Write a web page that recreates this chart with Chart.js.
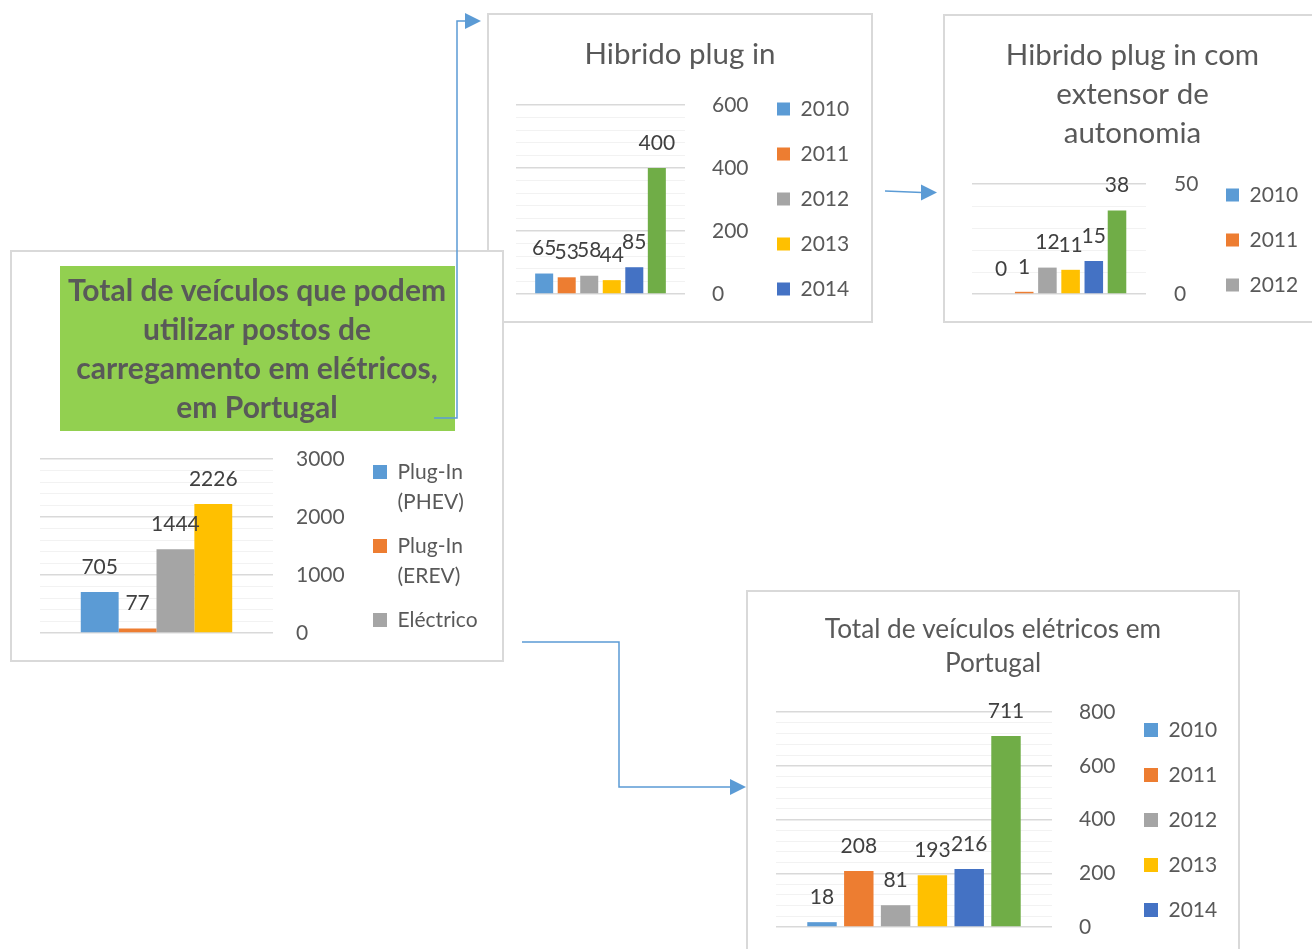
<!DOCTYPE html>
<html>
<head>
<meta charset="utf-8">
<script src="https://cdn.jsdelivr.net/npm/chart.js@4.4.1/dist/chart.umd.min.js"></script>
<style>
html,body{margin:0;padding:0;background:#fff;}
body{width:1312px;height:949px;overflow:hidden;position:relative;font-family:Lato,sans-serif;}
.box{position:absolute;background:#fff;}
.box canvas{position:absolute;left:0;top:0;}
.box .frame{position:absolute;left:0;top:0;right:0;bottom:0;border:2px solid #d9d9d9;box-sizing:border-box;pointer-events:none;}
svg.arrows{position:absolute;left:0;top:0;pointer-events:none;}
</style>
</head>
<body>
<div class="box" style="left:487px;top:13px;width:386px;height:310px"><canvas id="cPhev" width="386" height="310"></canvas><div class="frame"></div></div>
<div class="box" style="left:943px;top:14px;width:386px;height:309px"><canvas id="cErev" width="386" height="309"></canvas><div class="frame"></div></div>
<div class="box" style="left:746px;top:590px;width:494px;height:412px"><canvas id="cBev" width="494" height="412"></canvas><div class="frame"></div></div>
<div class="box" style="left:10px;top:250px;width:494px;height:412px"><canvas id="cTotal" width="494" height="412"></canvas><div class="frame"></div></div>
<svg class="arrows" width="1312" height="949">
  <g stroke="#5b9bd5" stroke-width="1.5" fill="none">
    <polyline points="434,418 457,418 457,21 467,21"/>
    <line x1="885" y1="191" x2="922" y2="192.5"/>
    <polyline points="522,642 619,642 619,787 731,787"/>
  </g>
  <g fill="#5b9bd5">
    <polygon points="465,13 481,21 465,29"/>
    <polygon points="921,184.5 937,192.5 921,200.5"/>
    <polygon points="730,779 746,787 730,795"/>
  </g>
</svg>
<script>
// ---- data ----
const yearLabels = ['2010', '2011', '2012', '2013', '2014', '2015'];
const phevValues = [65, 53, 58, 44, 85, 400];
const erevValues = [0, 1, 12, 11, 15, 38];
const bevValues = [18, 208, 81, 193, 216, 711];
const totalSeries = ['Plug-In (PHEV)', 'Plug-In (EREV)', 'Eléctrico', 'Total'];
const totalValues = [705, 77, 1444, 2226];
const totalTicks = [0, 1000, 2000, 3000];
const phevTicks = [0, 200, 400, 600];
const erevTicks = [0, 50];
const bevTicks = [0, 200, 400, 600, 800];
const titleTotal = ['Total de veículos que podem', 'utilizar postos de', 'carregamento em elétricos,', 'em Portugal'];
const titlePhev = ['Hibrido plug in'];
const titleErev = ['Hibrido plug in com', 'extensor de', 'autonomia'];
const titleBev = ['Total de veículos elétricos em', 'Portugal'];

// ---- styles ----
const yearColors = ['#5b9bd5', '#ed7d31', '#a5a5a5', '#ffc000', '#4472c4', '#70ad47'];
const totalColors = ['#5b9bd5', '#ed7d31', '#a5a5a5', '#ffc000'];

function build(canvasId, o) {
  const majors = o.ticks;
  const major = majors[1] - majors[0];
  const datasets = o.series.map((name, i) => ({
    label: name,
    data: [o.values[i]],
    backgroundColor: o.colors[i],
    borderWidth: 0,
    barPercentage: o.barPct,
    categoryPercentage: o.catPct
  }));
  const labelOpts = {
    color: '#595959',
    font: { size: 21, lineHeight: o.legLH },
    boxWidth: o.box,
    boxHeight: o.box,
    padding: o.legPad,
    filter: (item) => item.datasetIndex < o.legendCount
  };
  if (o.multiLine) {
    labelOpts.generateLabels = (chart) =>
      Chart.defaults.plugins.legend.labels.generateLabels(chart).map((it) => Object.assign(it, { text: it.text.split(' ') }));
  }
  const plugins = [
    {
      id: 'legendPlace',
      afterLayout(chart) {
        const lg = chart.legend;
        if (!lg) return;
        lg.left = o.legL; lg.top = o.legT;
        lg.right = chart.width; lg.bottom = chart.height + 200;
        lg.width = lg.right - lg.left; lg.height = lg.bottom - lg.top;
      }
    },
    {
      id: 'valueLabels',
      afterDatasetsDraw(chart) {
        const ctx = chart.ctx;
        ctx.save();
        ctx.font = '21px Lato, sans-serif';
        ctx.fillStyle = '#404040';
        ctx.textAlign = 'center';
        ctx.textBaseline = 'middle';
        chart.data.datasets.forEach((ds, i) => {
          const meta = chart.getDatasetMeta(i);
          meta.data.forEach((el, j) => {
            ctx.fillText(String(ds.data[j]), el.x, el.y - 25);
          });
        });
        ctx.restore();
      }
    }
  ];
  if (o.titleBg) {
    plugins.push({
      id: 'titleBg',
      beforeDraw(chart) {
        const ctx = chart.ctx;
        ctx.save();
        ctx.fillStyle = '#92d050';
        ctx.fillRect(o.titleBg[0], o.titleBg[1], o.titleBg[2], o.titleBg[3]);
        ctx.restore();
      }
    });
  }
  return new Chart(document.getElementById(canvasId), {
    type: 'bar',
    data: { labels: [''], datasets },
    options: {
      responsive: false,
      animation: false,
      events: [],
      layout: { padding: { left: o.padL, right: o.padR, top: 0, bottom: o.padB } },
      scales: {
        x: { display: false },
        y: {
          position: 'right',
          min: 0,
          max: majors[majors.length - 1],
          afterFit: (s) => { s.width = o.axisW; s.paddingTop = 0; s.paddingBottom = 0; },
          border: { display: false },
          grid: {
            drawTicks: false,
            color: (c) => (c.tick && c.tick.value % major === 0) ? '#d9d9d9' : '#f2f2f2',
            lineWidth: (c) => (c.tick && c.tick.value % major === 0) ? 1.5 : 1
          },
          ticks: {
            stepSize: o.minor,
            maxTicksLimit: 100,
            autoSkip: false,
            padding: o.tickPad,
            color: '#595959',
            font: { size: 21 },
            callback: (v) => majors.includes(v) ? String(v) : ''
          }
        }
      },
      plugins: {
        title: {
          display: true,
          text: o.title,
          color: '#595959',
          font: { size: o.titleSize, weight: o.titleWeight, lineHeight: o.titleLH + 'px' },
          padding: { top: o.titlePT, bottom: o.titlePB }
        },
        legend: { position: 'chartArea', align: 'start', labels: labelOpts },
        tooltip: { enabled: false }
      }
    },
    plugins
  });
}

function drawAll() {
  Chart.defaults.font.family = 'Lato, sans-serif';
  Chart.defaults.color = '#595959';

  build('cPhev', {
    series: yearLabels, values: phevValues, colors: yearColors, ticks: phevTicks, minor: 40,
    title: titlePhev, titleSize: 29.5, titleWeight: 'normal', titleLH: 34, titlePT: 24, titlePB: 34,
    padL: 29, padR: 29, padB: 29, axisW: 159, tickPad: 27,
    legL: 266, legT: 61.5, legPad: 24, box: 13, legLH: 1.2, legendCount: 5,
    barPct: 0.8, catPct: 0.8
  });
  build('cErev', {
    series: yearLabels, values: erevValues, colors: yearColors, ticks: erevTicks, minor: 10,
    title: titleErev, titleSize: 29.5, titleWeight: 'normal', titleLH: 39, titlePT: 21.5, titlePB: 31.5,
    padL: 29, padR: 36, padB: 29, axisW: 147, tickPad: 28,
    legL: 259, legT: 146.5, legPad: 24, box: 13, legLH: 1.2, legendCount: 3,
    barPct: 0.8, catPct: 0.8
  });
  build('cBev', {
    series: yearLabels, values: bevValues, colors: yearColors, ticks: bevTicks, minor: 40,
    title: titleBev, titleSize: 26.2, titleWeight: 'normal', titleLH: 34, titlePT: 23, titlePB: 31,
    padL: 30, padR: 30, padB: 75, axisW: 158, tickPad: 27,
    legL: 374, legT: 105.5, legPad: 24, box: 14, legLH: 1.2, legendCount: 5,
    barPct: 0.8, catPct: 0.8
  });
  build('cTotal', {
    series: totalSeries, values: totalValues, colors: totalColors, ticks: totalTicks, minor: 200,
    title: titleTotal, titleSize: 30, titleWeight: 'bold', titleLH: 39, titlePT: 21.5, titlePB: 31.5,
    padL: 30, padR: 30, padB: 29, axisW: 201, tickPad: 23,
    legL: 349, legT: 197.5, legPad: 14, box: 14, legLH: '30px', legendCount: 3, multiLine: true,
    barPct: 1.0, catPct: 0.65, titleBg: [50, 16, 395, 165]
  });
}

let done = false;
function go() { if (done) return; done = true; drawAll(); }
if (document.fonts && document.fonts.load) {
  Promise.all([
    document.fonts.load('21px Lato'),
    document.fonts.load('bold 30px Lato')
  ]).then(go, go);
  setTimeout(go, 1500);
} else {
  go();
}
</script>
</body>
</html>
